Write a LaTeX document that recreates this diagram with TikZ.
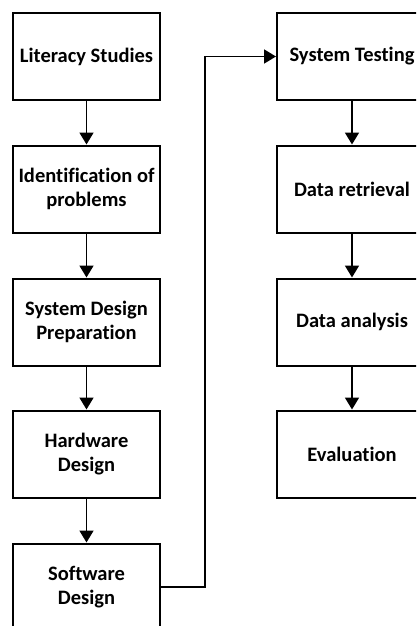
\documentclass[tikz,border=0pt]{standalone}
\usepackage{fontspec}
\setmainfont{Carlito}[Ligatures=NoCommon]
\usetikzlibrary{arrows.meta}
\begin{document}
\begin{tikzpicture}[x=1pt,y=-1pt,
  stage/.style={draw, line width=2pt, minimum width=147pt, minimum height=87pt,
    inner sep=0pt, align=center, font=\bfseries\fontsize{20.5}{24}\selectfont},
  widestage/.style={stage, minimum width=150pt},
  flow/.style={line width=1.8pt, -{Triangle[width=14pt,length=12pt]}}]
\useasboundingbox (0,0) rectangle (416,626);
\clip (0,0) rectangle (416,626);
% left column
\node[stage] (lit)  at (86.5,56.5)  {Literacy Studies};
\node[stage] (iden) at (86.5,189)   {Identification of\\problems};
\node[stage] (prep) at (86.5,322)   {System Design\\Preparation};
\node[stage] (hw)   at (86.5,454)   {Hardware\\Design};
\node[stage] (sw)   at (86.5,587)   {Software\\Design};
% right column
\node[widestage] (test) at (352,56.5) {System Testing};
\node[widestage] (ret)  at (352,189)  {Data retrieval};
\node[widestage] (ana)  at (352,322)  {Data analysis};
\node[widestage] (eval) at (352,454)  {Evaluation};
% connectors
\draw[flow] (lit) -- (iden);
\draw[flow] (iden) -- (prep);
\draw[flow] (prep) -- (hw);
\draw[flow] (hw) -- (sw);
\draw[flow] (sw.east) -- ++(44,0) |- (test.west);
\draw[flow] (test) -- (ret);
\draw[flow] (ret) -- (ana);
\draw[flow] (ana) -- (eval);
\end{tikzpicture}
\end{document}
